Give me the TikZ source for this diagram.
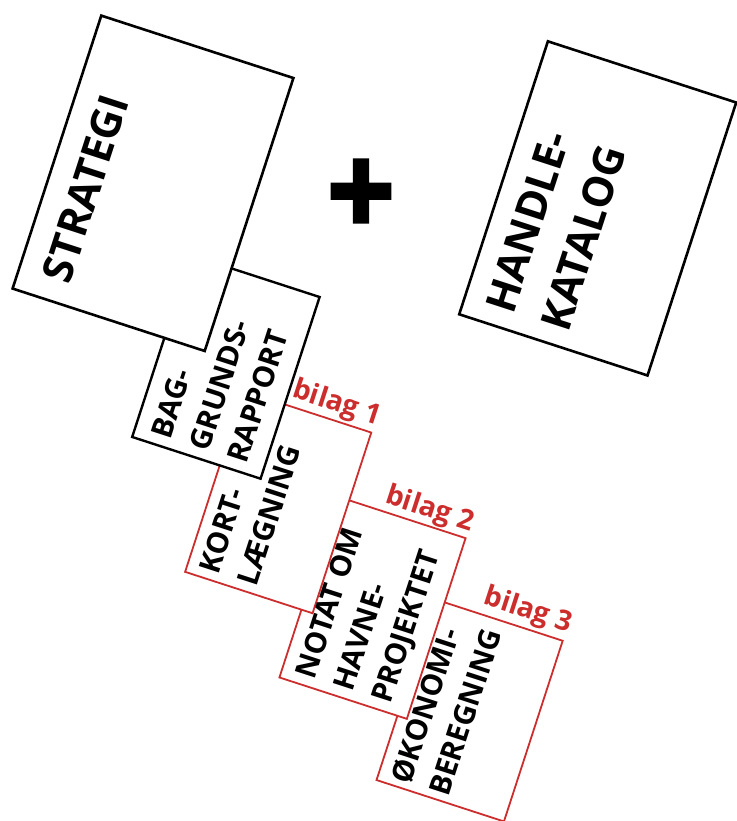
\documentclass[tikz,border=0pt]{standalone}
\usepackage{fontspec}
\setmainfont{Open Sans}
\newfontfamily\plusfont{Open Sans}[BoldFeatures={FakeBold=3}]
\definecolor{bilagred}{RGB}{204,45,45}
\begin{document}
\begin{tikzpicture}[x=1pt,y=-1pt,
  bigdoc/.style={draw=black, line width=2.6pt, fill=white, rotate=-18, inner sep=0pt, minimum width=202pt, minimum height=287pt},
  blackdoc/.style={draw=black, line width=2.4pt, fill=white, rotate=-18, inner sep=0pt, minimum width=135pt, minimum height=191pt},
  reddoc/.style={draw=bilagred, line width=1.8pt, fill=white, rotate=-18, inner sep=0pt, minimum width=134pt, minimum height=190pt},
  bigtxt/.style={font=\bfseries\fontsize{42}{58}\selectfont, rotate=72, align=left, inner sep=0pt},
  smalltxt/.style={font=\bfseries\fontsize{29.5}{40}\selectfont, rotate=72, align=left, inner sep=0pt},
  bilagtxt/.style={font=\bfseries\fontsize{28}{32}\selectfont, text=bilagred, rotate=-18, inner sep=0pt}]
\path[use as bounding box] (0,0) rectangle (736,821);
% documents, back to front
\node[reddoc] (oko) at (469.6,710.4) {};
\node[reddoc] (notat) at (372.5,607.8) {};
\node[reddoc] (kort) at (278.2,502.2) {};
\node[blackdoc] (bag) at (225.9,367) {};
\node[bigdoc] (strategi) at (153,183.3) {};
\node[bigdoc, minimum width=198pt] (handle) at (597.7,208.4) {};
% texts
\node[bigtxt] (strategiT) at (85.5,188.5) {STRATEGI};
\node[bigtxt] (handleT) at (556,229) {HANDLE-\\KATALOG};
\node[smalltxt] (bagT) at (220,384) {BAG-\\GRUNDS-\\RAPPORT};
\node[smalltxt] (kortT) at (250,509) {KORT-\\LÆGNING};
\node[smalltxt] (notatT) at (370,615) {NOTAT OM\\HAVNE-\\PROJEKTET};
\node[smalltxt] (okoT) at (446,706) {ØKONOMI-\\BEREGNING};
% labels
\node[bilagtxt] (bilag1) at (336.5,404) {bilag 1};
\node[bilagtxt] (bilag2) at (429.5,510) {bilag 2};
\node[bilagtxt] (bilag3) at (528,611) {bilag 3};
% plus
\node[font=\plusfont\bfseries\fontsize{118}{118}\selectfont, inner sep=0pt, yscale=1.07] (plus) at (361,198) {+};
\end{tikzpicture}
\end{document}
